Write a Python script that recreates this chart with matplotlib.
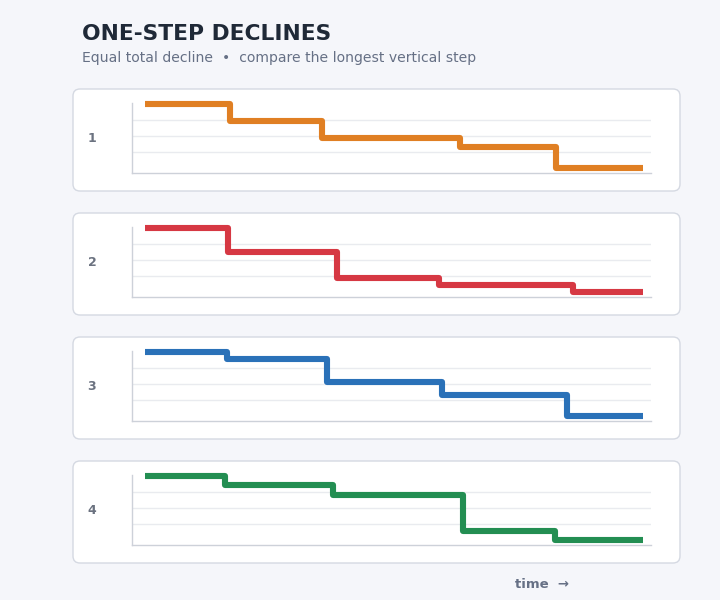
import matplotlib.pyplot as plt
from matplotlib.patches import FancyBboxPatch

# step times (fraction of time axis) and levels for each panel
labels = ["1", "2", "3", "4"]
colors = ["#e07f23", "#d63843", "#2a71b8", "#238e52"]
times = [
    [0.0, 0.170, 0.356, 0.634, 0.826, 1.0],
    [0.0, 0.166, 0.385, 0.590, 0.861, 1.0],
    [0.0, 0.165, 0.365, 0.597, 0.849, 1.0],
    [0.0, 0.160, 0.378, 0.639, 0.825, 1.0],
]
levels = [
    [1.0, 0.728, 0.469, 0.322, 0.0, 0.0],
    [1.0, 0.625, 0.219, 0.109, 0.0, 0.0],
    [1.0, 0.891, 0.531, 0.332, 0.0, 0.0],
    [1.0, 0.859, 0.703, 0.141, 0.0, 0.0],
]

W, H = 720, 600
fig = plt.figure(figsize=(7.2, 6), dpi=100)
fig.patch.set_facecolor("#f5f6fa")

# background layer in pixel coordinates
bg = fig.add_axes([0, 0, 1, 1], zorder=0)
bg.set_xlim(0, W)
bg.set_ylim(H, 0)
bg.axis("off")

bg.text(82, 34, "ONE-STEP DECLINES", fontsize=15.7, fontweight="bold",
        color="#1f2937", va="center", ha="left")
bg.text(82, 58, "Equal total decline  \u2022  compare the longest vertical step",
        fontsize=10.1, color="#667085", va="center", ha="left")
bg.text(542, 584, "time  \u2192", fontsize=9.5, fontweight="bold",
        color="#667085", va="center", ha="center")

card_top = 89
card_h = 102
gap = 124

for i in range(4):
    y0 = card_top + i * gap
    card = FancyBboxPatch((73, y0), 607, card_h,
                          boxstyle="round,pad=0,rounding_size=7",
                          facecolor="white", edgecolor="#d5d9e2", linewidth=1)
    bg.add_patch(card)
    bg.text(92, y0 + 49, labels[i], fontsize=9, fontweight="bold",
            color="#6b7280", va="center", ha="center")

    ax_top = y0 + 13.7
    ax_bot = y0 + 84.3
    ax = fig.add_axes([132 / W, 1 - ax_bot / H, 519 / W, (ax_bot - ax_top) / H], zorder=1)
    ax.set_facecolor("none")
    ax.step(times[i], levels[i], where="post", color=colors[i], linewidth=4.4,
            solid_capstyle="butt", solid_joinstyle="round", clip_on=False, zorder=3)
    ax.set_xlim(-0.026, 1.017)
    ax.set_ylim(-0.08, 1.02)
    ax.set_yticks([0.25, 0.5, 0.75])
    ax.set_xticks([])
    ax.tick_params(left=False, labelleft=False)
    ax.grid(axis="y", color="#e9ebef", linewidth=1)
    for s in ["top", "right"]:
        ax.spines[s].set_visible(False)
    for s in ["left", "bottom"]:
        ax.spines[s].set_color("#cdd1d9")
        ax.spines[s].set_linewidth(1)

fig.savefig("out.png", dpi=100)
